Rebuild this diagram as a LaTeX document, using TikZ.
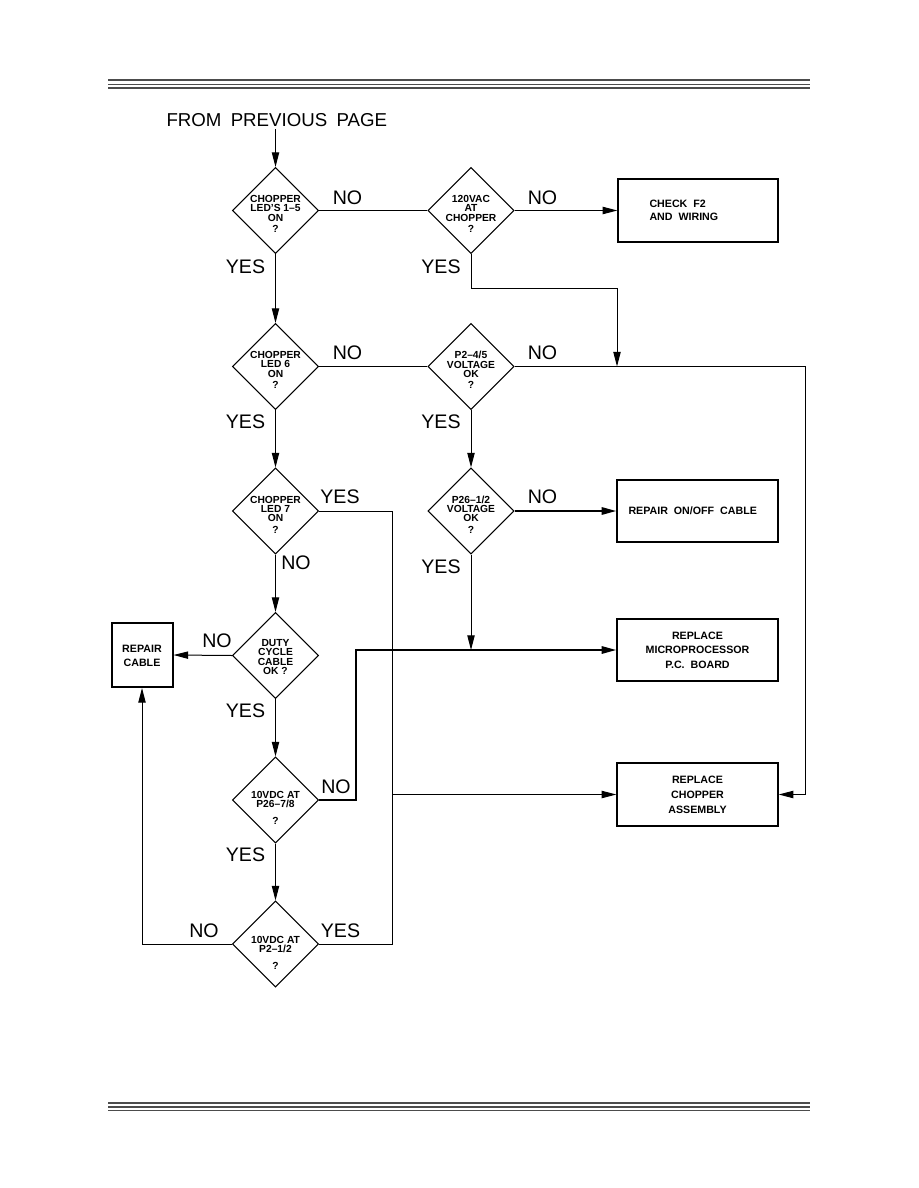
\documentclass[tikz,border=0pt]{standalone}
\usepackage{fontspec}
\setmainfont{Liberation Sans}
\usetikzlibrary{shapes.geometric,arrows.meta,calc}
\begin{document}
\begin{tikzpicture}[x=0.75pt,y=-0.75pt,line width=0.75pt,
  dia/.style={draw,diamond,aspect=1,minimum width=64.5pt,minimum height=64.5pt,inner sep=0pt,line width=0.8pt},
  dtext/.style={font=\fontsize{7.7}{7}\selectfont\bfseries,align=center,inner sep=0pt},
  lbl/.style={font=\fontsize{14.7}{16}\selectfont,inner sep=0pt},
  boxn/.style={draw,rectangle,line width=1pt,inner sep=0pt},
  btext/.style={font=\fontsize{8}{11}\selectfont\bfseries,inner sep=0pt,align=center},
  arr/.style={-{Triangle[length=11pt,width=5.5pt]}},
  hdr/.style={draw=black!70}]
\fill[white] (0,0) rectangle (918,1188);
\useasboundingbox (0,0) rectangle (918,1188);

% header and footer rules
\coordinate (h1l) at (108,80);   \coordinate (h1r) at (810,80);
\coordinate (h2l) at (108,84.5); \coordinate (h2r) at (810,84.5);
\coordinate (h3l) at (108,88);   \coordinate (h3r) at (810,88);
\draw[hdr,line width=1.6pt] (h1l) -- (h1r);
\draw[hdr,line width=0.9pt] (h2l) -- (h2r);
\draw[hdr,line width=1.3pt] (h3l) -- (h3r);
\coordinate (f1l) at (108,1103); \coordinate (f1r) at (810,1103);
\coordinate (f2l) at (108,1107); \coordinate (f2r) at (810,1107);
\coordinate (f3l) at (108,1110.5); \coordinate (f3r) at (810,1110.5);
\draw[hdr,line width=1.3pt] (f1l) -- (f1r);
\draw[hdr,line width=0.9pt] (f2l) -- (f2r);
\draw[hdr,line width=1.3pt] (f3l) -- (f3r);

% start text
\node[lbl,anchor=base west,font=\fontsize{14}{16}\selectfont] (from) at (166,126) {FROM\hspace{0.5em}PREVIOUS\hspace{0.5em}PAGE};
\coordinate (fromc) at (275.5,129);

% diamonds
\node[dia] (d1) at (275.5,210.5) {};
\node[dia] (d2) at (471,210.5) {};
\node[dia] (d3) at (275.5,366.5) {};
\node[dia] (d4) at (471,366.5) {};
\node[dia] (d5) at (275.5,511) {};
\node[dia] (d6) at (471,511) {};
\node[dia] (d8) at (275.5,655.5) {};
\node[dia] (d7) at (275.5,800) {};
\node[dia] (d9) at (275.5,944) {};

\node[dtext] (t1) at (275.5,214) {CHOPPER\\LED'S 1–5\\ON\\[1.5pt]?};
\node[dtext] (t2) at (471,214) {120VAC\\AT\\CHOPPER\\[1.5pt]?};
\node[dtext] (t3) at (275.5,370) {CHOPPER\\LED 6\\ON\\[1.5pt]?};
\node[dtext] (t4) at (471,370) {P2–4/5\\VOLTAGE\\OK\\[1.5pt]?};
\node[dtext] (t5) at (275.5,514.5) {CHOPPER\\LED 7\\ON\\[1.5pt]?};
\node[dtext] (t6) at (471,514.5) {P26–1/2\\VOLTAGE\\OK\\[1.5pt]?};
\node[dtext] (t8) at (275.5,657) {DUTY\\CYCLE\\CABLE\\OK ?};
\node[dtext] (t7) at (275.5,808) {10VDC AT\\P26–7/8\\[5.5pt]?};
\node[dtext] (t9) at (275.5,953) {10VDC AT\\P2–1/2\\[5.5pt]?};

% boxes
\node[boxn,minimum width=120pt,minimum height=47.25pt] (b1) at (698,210.5) {};
\node[btext,anchor=west,align=left,font=\fontsize{8}{9.8}\selectfont\bfseries] (b1t) at (649,210.5) {CHECK\ \ F2\\AND\ \ WIRING};
\node[boxn,minimum width=120.75pt,minimum height=46.5pt] (onoff) at (697.5,511) {};
\node[btext,anchor=west] (onofft) at (628,511) {REPAIR\ \ ON/OFF\ \ CABLE};
\node[boxn,minimum width=120.75pt,minimum height=46.5pt] (micro) at (697.5,650) {};
\node[btext] (microt) at (697.5,650) {REPLACE\\MICROPROCESSOR\\P.C.\ \ BOARD};
\node[boxn,minimum width=120.75pt,minimum height=47.25pt] (chop) at (697.5,794.5) {};
\node[btext,font=\fontsize{8}{11.3}\selectfont\bfseries] (chopt) at (697.5,794.5) {REPLACE\\CHOPPER\\ASSEMBLY};
\node[boxn,line width=1.5pt,minimum width=45.75pt,minimum height=48pt] (rcab) at (142,655) {};
\node[btext,font=\fontsize{8}{10.5}\selectfont\bfseries] (rcabt) at (142,656) {REPAIR\\CABLE};

% yes / no labels
\node[lbl] (l1) at (347.5,197.5) {NO};
\node[lbl] (l2) at (542.5,197.5) {NO};
\node[lbl] (l3) at (245.5,266.5) {YES};
\node[lbl] (l4) at (441,266.5) {YES};
\node[lbl] (l5) at (347.5,353) {NO};
\node[lbl] (l6) at (542.5,353) {NO};
\node[lbl] (l7) at (245.5,422) {YES};
\node[lbl] (l8) at (441,422) {YES};
\node[lbl] (l9) at (340,497) {YES};
\node[lbl] (l10) at (542.5,497) {NO};
\node[lbl] (l11) at (296,563) {NO};
\node[lbl] (l12) at (441,567) {YES};
\node[lbl] (l13) at (217,641) {NO};
\node[lbl] (l14) at (245.5,711) {YES};
\node[lbl] (l15) at (336,786.5) {NO};
\node[lbl] (l16) at (245.5,855) {YES};
\node[lbl] (l17) at (204,931) {NO};
\node[lbl] (l18) at (340.5,931) {YES};

% helper coordinates
\coordinate (c1) at (617,288);
\coordinate (c2) at (617,366.5);
\coordinate (c3) at (805,366.5);
\coordinate (c3b) at (805,794.5);
\coordinate (c4) at (392,511);
\coordinate (c5) at (392,944);
\coordinate (c6) at (392,794.5);
\coordinate (c7) at (471,650);
\coordinate (c8) at (356,800);
\coordinate (c9) at (356,650);
\coordinate (c10) at (142,944);

% connectors
\draw[arr] (fromc) -- (d1.north);
\draw (d1.east) -- (d2.west);
\draw[arr] (d2.east) -- (b1.west);
\draw[arr] (d2.south) |- (c1) -- (c2);
\draw[arr] (d1.south) -- (d3.north);
\draw (d3.east) -- (d4.west);
\draw[arr] (d4.east) -- (c3) -- (c3b) -- (chop.east);
\draw[arr] (d3.south) -- (d5.north);
\draw[arr] (d4.south) -- (d6.north);
\draw (d5.east) -- (c4) -- (c5) -- (d9.east);
\draw[arr] (c6) -- (chop.west);
\draw[arr,line width=1.5pt] (d6.east) -- (onoff.west);
\draw[arr] (d6.south) -- (c7);
\draw[arr] (d5.south) -- (d8.north);
\draw[arr] (d8.west) -- (rcab.east);
\draw[arr] (d8.south) -- (d7.north);
\draw[arr,line width=1.5pt] (d7.east) -- (c8) -- (c9) -- (micro.west);
\draw[arr] (d7.south) -- (d9.north);
\draw[arr] (d9.west) -- (c10) -- (rcab.south);
\end{tikzpicture}
\end{document}
